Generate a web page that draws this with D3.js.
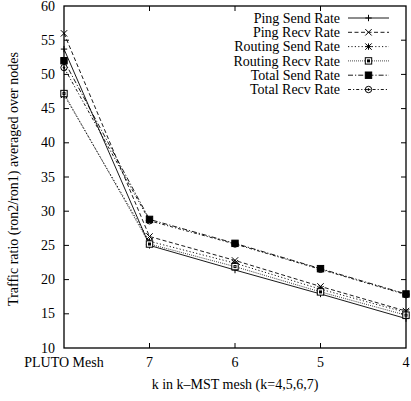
<!DOCTYPE html>
<html>
<head>
<meta charset="utf-8">
<script src="https://cdn.jsdelivr.net/npm/d3@7/dist/d3.min.js"></script>
<style>
  html, body { margin: 0; padding: 0; background: #fff; }
  svg { display: block; }
  text { font-family: "Liberation Serif", "Times New Roman", serif; fill: #000; }
</style>
</head>
<body>
<svg id="chart" width="411" height="401"></svg>
<script>
// Mesh configurations along the x axis
const categories = ["PLUTO Mesh", "7", "6", "5", "4"];

// Traffic ratio series (ron2/ron1), averaged over nodes
const pingSend    = [53.7, 25.0, 21.4, 17.9, 14.3];
const pingRecv    = [56.0, 26.3, 22.8, 19.0, 15.4];
const routingSend = [47.0, 25.6, 22.4, 18.6, 15.2];
const routingRecv = [47.2, 25.2, 21.9, 18.2, 14.8];
const totalSend   = [52.0, 28.8, 25.3, 21.6, 17.9];
const totalRecv   = [51.0, 28.6, 25.2, 21.5, 17.8];

const seriesNames = ["Ping Send Rate", "Ping Recv Rate", "Routing Send Rate",
                     "Routing Recv Rate", "Total Send Rate", "Total Recv Rate"];
const yTicks = [10, 15, 20, 25, 30, 35, 40, 45, 50, 55, 60];

const series = [
  { name: seriesNames[0], values: pingSend,    dash: null,          marker: "plus" },
  { name: seriesNames[1], values: pingRecv,    dash: "4,2.5",       marker: "cross" },
  { name: seriesNames[2], values: routingSend, dash: "1.2,2.2",     marker: "star" },
  { name: seriesNames[3], values: routingRecv, dash: "0.8,1.2",     marker: "box" },
  { name: seriesNames[4], values: totalSend,   dash: "5,2,1.2,2",   marker: "fbox" },
  { name: seriesNames[5], values: totalRecv,   dash: "3,2,1.2,2",   marker: "circle" }
];

const svg = d3.select("#chart");
const plotL = 64, plotR = 406, plotT = 6, plotB = 348;

const x = d3.scalePoint().domain(categories).range([plotL, plotR]);
const y = d3.scaleLinear().domain([10, 60]).range([plotB, plotT]);

const FONT = 14;

// inward ticks on all four sides, labels on left and bottom
const tickLen = 5;
const gTicks = svg.append("g").attr("stroke", "#000").attr("stroke-width", 1);
yTicks.forEach(v => {
  if (v === 10 || v === 60) return;
  gTicks.append("line").attr("x1", plotL).attr("x2", plotL + tickLen).attr("y1", y(v)).attr("y2", y(v));
  gTicks.append("line").attr("x1", plotR).attr("x2", plotR - tickLen).attr("y1", y(v)).attr("y2", y(v));
});
categories.forEach((c, i) => {
  if (i === 0 || i === categories.length - 1) return;
  gTicks.append("line").attr("x1", x(c)).attr("x2", x(c)).attr("y1", plotB).attr("y2", plotB - tickLen);
  gTicks.append("line").attr("x1", x(c)).attr("x2", x(c)).attr("y1", plotT).attr("y2", plotT + tickLen);
});

// y tick labels
svg.append("g").selectAll("text").data(yTicks).join("text")
  .attr("x", plotL - 9).attr("y", d => y(d)).attr("dy", "0.33em")
  .attr("text-anchor", "end").attr("font-size", FONT)
  .text(d => d);

// x tick labels
svg.append("g").selectAll("text").data(categories).join("text")
  .attr("x", d => x(d)).attr("y", plotB + 19)
  .attr("text-anchor", "middle").attr("font-size", FONT)
  .text(d => d);

// axis titles
svg.append("text")
  .attr("x", (plotL + plotR) / 2).attr("y", 389)
  .attr("text-anchor", "middle").attr("font-size", FONT)
  .text("k in k\u2013MST mesh (k=4,5,6,7)");

svg.append("text")
  .attr("transform", `translate(18,${(plotT + plotB) / 2 + 2}) rotate(-90)`)
  .attr("text-anchor", "middle").attr("font-size", FONT)
  .text("Traffic ratio (ron2/ron1) averaged over nodes");

// marker drawing
function drawMarker(g, type, cx, cy) {
  const s = 3.2;
  const m = g.append("g").attr("transform", `translate(${cx},${cy})`)
    .attr("stroke", "#000").attr("stroke-width", 1).attr("fill", "none");
  if (type === "plus" || type === "star") {
    m.append("line").attr("x1", -s).attr("x2", s).attr("y1", 0).attr("y2", 0);
    m.append("line").attr("x1", 0).attr("x2", 0).attr("y1", -s).attr("y2", s);
  }
  if (type === "cross" || type === "star") {
    m.append("line").attr("x1", -s).attr("x2", s).attr("y1", -s).attr("y2", s);
    m.append("line").attr("x1", -s).attr("x2", s).attr("y1", s).attr("y2", -s);
  }
  if (type === "box") {
    m.append("rect").attr("x", -s).attr("y", -s).attr("width", 2 * s).attr("height", 2 * s).attr("fill", "#fff");
    m.append("rect").attr("x", -1).attr("y", -1).attr("width", 2).attr("height", 2);
  }
  if (type === "fbox") {
    m.append("rect").attr("x", -s).attr("y", -s).attr("width", 2 * s).attr("height", 2 * s).attr("fill", "#000");
  }
  if (type === "circle") {
    m.append("circle").attr("r", s);
    m.append("circle").attr("r", 0.8).attr("fill", "#000");
  }
}

const line = d3.line().x((d, i) => x(categories[i])).y(d => y(d));

const gLines = svg.append("g");
series.forEach(s => {
  gLines.append("path").datum(s.values)
    .attr("d", line).attr("fill", "none").attr("stroke", "#000")
    .attr("stroke-width", 0.9)
    .attr("stroke-dasharray", s.dash);
});
series.forEach(s => {
  s.values.forEach((v, i) => drawMarker(gLines, s.marker, x(categories[i]), y(v)));
});

// legend
const legX = 340, legLine0 = 348, legLine1 = 389, legY0 = 18, legDy = 14.3;
const gLeg = svg.append("g");
series.forEach((s, i) => {
  const yy = legY0 + i * legDy;
  gLeg.append("text").attr("x", legX).attr("y", yy).attr("dy", "0.33em")
    .attr("text-anchor", "end").attr("font-size", FONT).text(s.name);
  gLeg.append("line").attr("x1", legLine0).attr("x2", legLine1).attr("y1", yy).attr("y2", yy)
    .attr("stroke", "#000").attr("stroke-width", 0.9).attr("stroke-dasharray", s.dash);
  drawMarker(gLeg, s.marker, (legLine0 + legLine1) / 2, yy);
});

// plot frame
svg.append("rect")
  .attr("x", plotL).attr("y", plotT).attr("width", plotR - plotL).attr("height", plotB - plotT)
  .attr("fill", "none").attr("stroke", "#000").attr("stroke-width", 1.3);
</script>
</body>
</html>
